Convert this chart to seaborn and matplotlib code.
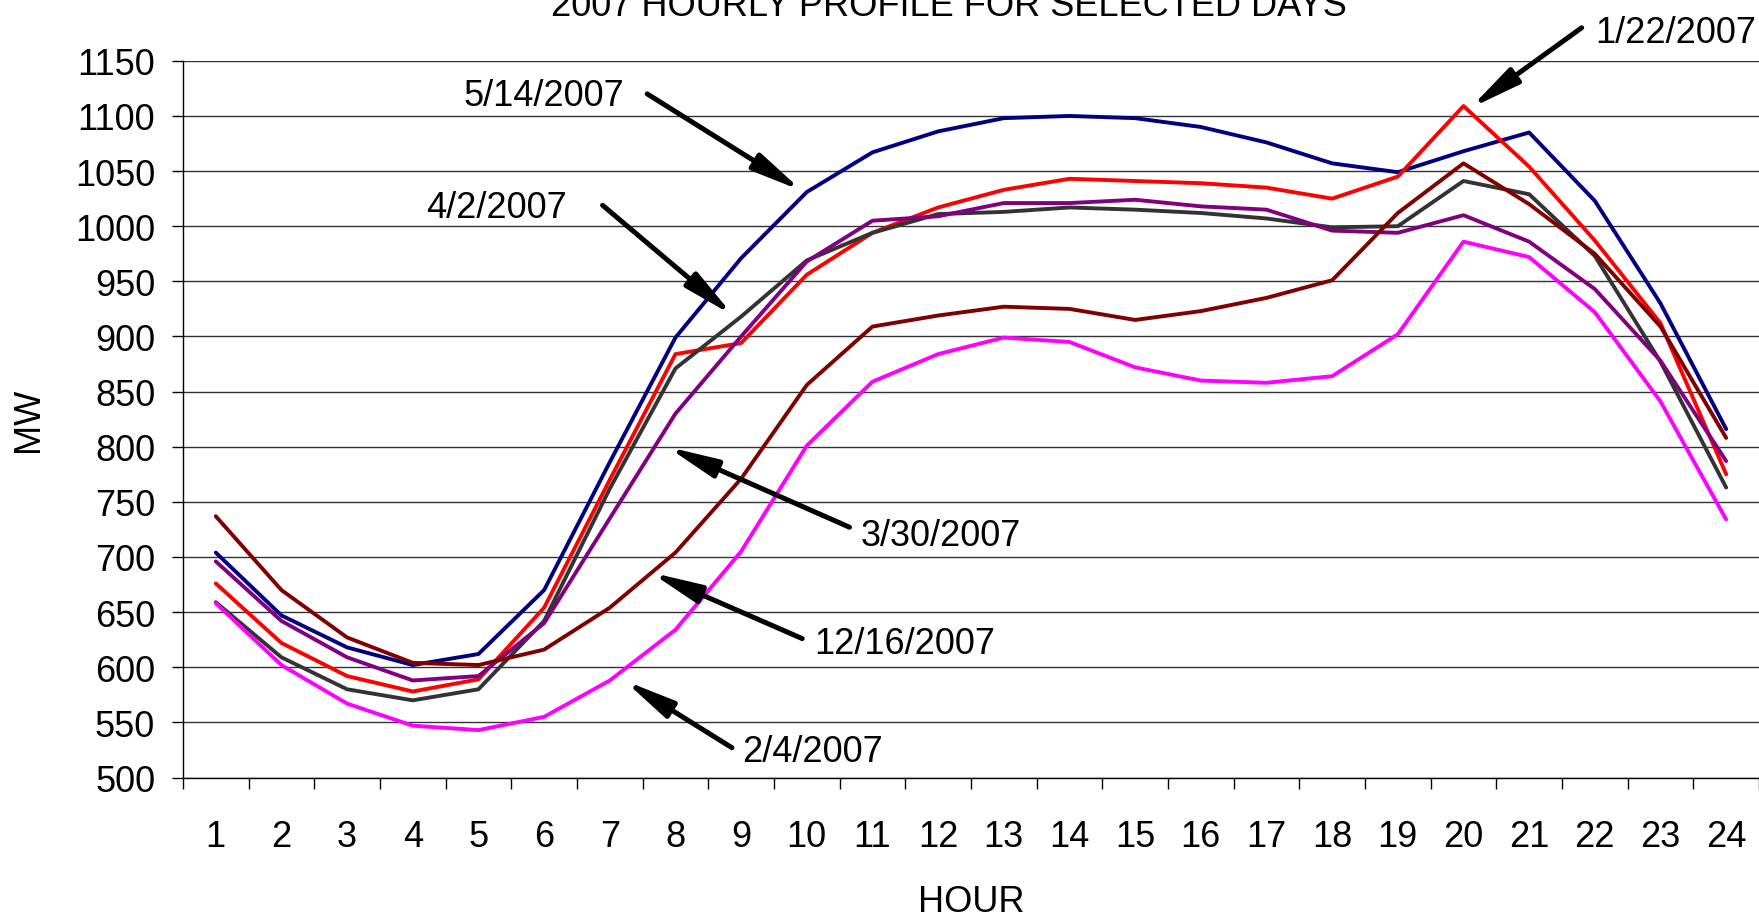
import matplotlib
matplotlib.use("Agg")
import matplotlib.pyplot as plt
import numpy as np
import pandas as pd
import seaborn as sns

# hourly load (MW)
hours = list(range(1, 25))
may14 = [704, 647, 618, 602, 612, 670, 786, 899, 971, 1031, 1067, 1086, 1098, 1100, 1098, 1090, 1076, 1057, 1049, 1068, 1085, 1023, 930, 816]
jan22 = [676, 622, 592, 578, 589, 654, 770, 884, 894, 956, 994, 1017, 1033, 1043, 1041, 1039, 1035, 1025, 1045, 1109, 1054, 987, 912, 775]
apr2 = [659, 609, 580, 570, 580, 642, 762, 871, 918, 969, 994, 1011, 1013, 1017, 1015, 1012, 1007, 999, 1000, 1041, 1029, 973, 877, 763]
mar30 = [696, 642, 609, 588, 592, 640, 735, 830, 900, 968, 1005, 1009, 1021, 1021, 1024, 1018, 1015, 996, 994, 1010, 986, 943, 878, 787]
dec16 = [737, 670, 627, 604, 602, 616, 654, 704, 771, 856, 909, 919, 927, 925, 915, 923, 935, 951, 1012, 1057, 1020, 975, 909, 808]
feb4 = [658, 602, 567, 547, 543, 555, 588, 634, 705, 801, 859, 884, 899, 895, 872, 860, 858, 864, 902, 986, 972, 922, 841, 734]

days = ["5/14/2007", "1/22/2007", "4/2/2007", "3/30/2007", "12/16/2007", "2/4/2007"]
series = [may14, jan22, apr2, mar30, dec16, feb4]
colors = {"5/14/2007": "#000080", "1/22/2007": "#FF0000", "4/2/2007": "#333333",
          "3/30/2007": "#800080", "12/16/2007": "#800000", "2/4/2007": "#FF00FF"}

# label text position (x, baseline y) and arrow tail -> tip, in data units
labels = {
    "5/14/2007": ((6.0, 1110), (7.57, 1120), (9.93, 1032)),
    "4/2/2007": ((5.28, 1008), (6.89, 1019), (8.88, 919)),
    "1/22/2007": ((23.23, 1167), (21.80, 1180), (20.10, 1107)),
    "3/30/2007": ((12.04, 711), (10.65, 727), (7.87, 800)),
    "12/16/2007": ((11.49, 613), (9.93, 626), (7.62, 686)),
    "2/4/2007": ((10.09, 515), (8.86, 527), (7.22, 588)),
}

df = pd.DataFrame({
    "hour": hours * len(days),
    "MW": sum(series, []),
    "day": np.repeat(days, len(hours)),
})

sns.set_theme(style="white")
plt.rcParams["font.family"] = ["Liberation Sans", "DejaVu Sans"]
fs = 26

fig = plt.figure(figsize=(17.59, 9.2), dpi=100)
ax = fig.add_axes([0.104, 0.1538, 0.896, 0.779])

sns.lineplot(data=df, x="hour", y="MW", hue="day", palette=colors,
             linewidth=2.8, legend=False, ax=ax, clip_on=False)

ax.set_xlim(0.5, 24.5)
ax.set_ylim(500, 1150)
ax.set_yticks(np.arange(500, 1151, 50))
ax.set_xticks(np.arange(0.5, 24.6, 1))
ax.set_xticklabels([])
ax.set_xticks(hours, minor=True)
ax.set_xticklabels([str(h) for h in hours], minor=True)
ax.tick_params(axis="x", which="major", length=8, width=1, direction="out", color="black", bottom=True)
ax.tick_params(axis="x", which="minor", length=0, pad=30, labelsize=fs, labelcolor="black")
ax.tick_params(axis="y", length=8, width=1, direction="out", color="black", left=True, pad=12,
               labelsize=fs, labelcolor="black")

ax.yaxis.grid(True, color="#333333", linewidth=1)
ax.xaxis.grid(False)
for s in ["top", "right"]:
    ax.spines[s].set_visible(False)
for s in ["left", "bottom"]:
    ax.spines[s].set_color("black")
    ax.spines[s].set_linewidth(1)

ax.set_xlabel("HOUR", fontsize=fs, color="black")
ax.set_ylabel("MW", fontsize=fs, color="black")
ax.xaxis.set_label_coords(0.5, -0.148)
ax.yaxis.set_label_coords(-0.087, 0.5)

for day, (txt, tail, tip) in labels.items():
    ax.text(txt[0], txt[1], day, fontsize=fs, ha="center", va="baseline", color="black", clip_on=False)
    ax.annotate("", xy=tip, xytext=tail, annotation_clip=False,
                arrowprops=dict(arrowstyle="-|>,head_length=1.2,head_width=0.22", lw=3.6,
                                color="black", shrinkA=0, shrinkB=0, mutation_scale=25))

fig.text(949 / 1759, 1 - 16 / 920, "2007 HOURLY PROFILE FOR SELECTED DAYS", fontsize=fs,
         ha="center", va="baseline", color="black")

fig.savefig("out.png", dpi=100)
